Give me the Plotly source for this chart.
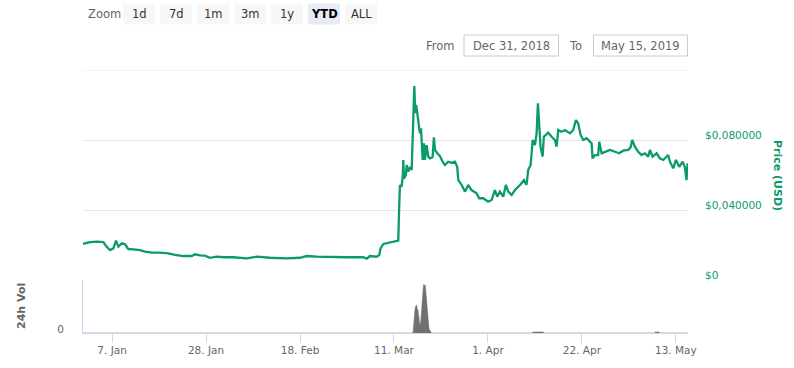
import plotly.graph_objects as go

# ---------------- data ----------------
price_time = [
    "2018-12-31 12:00", "2018-12-31 23:00", "2019-01-02 02:00", "2019-01-03 14:00", "2019-01-05 01:00",
    "2019-01-05 19:00", "2019-01-06 13:00", "2019-01-07 07:00", "2019-01-07 21:00", "2019-01-08 10:00",
    "2019-01-09 04:00", "2019-01-09 22:00", "2019-01-10 15:00", "2019-01-11 18:00", "2019-01-13 06:00",
    "2019-01-14 09:00", "2019-01-15 21:00", "2019-01-17 08:00", "2019-01-19 05:00", "2019-01-21 02:00",
    "2019-01-22 22:00", "2019-01-24 19:00", "2019-01-25 13:00", "2019-01-26 16:00", "2019-01-27 18:00",
    "2019-01-28 21:00", "2019-01-30 09:00", "2019-01-31 21:00", "2019-02-02 05:00", "2019-02-03 02:00",
    "2019-02-06 02:00", "2019-02-08 08:00", "2019-02-11 07:00", "2019-02-15 00:00", "2019-02-18 00:00",
    "2019-02-19 12:00", "2019-02-21 18:00", "2019-02-24 17:00", "2019-02-28 10:00", "2019-03-04 03:00",
    "2019-03-04 22:00", "2019-03-05 15:00", "2019-03-07 03:00", "2019-03-07 17:00", "2019-03-08 00:00",
    "2019-03-08 15:00", "2019-03-09 09:00", "2019-03-10 20:00", "2019-03-11 23:00", "2019-03-12 04:00",
    "2019-03-12 08:00", "2019-03-12 17:00", "2019-03-12 23:00", "2019-03-13 02:00", "2019-03-13 06:00",
    "2019-03-13 16:00", "2019-03-13 20:00", "2019-03-14 05:00", "2019-03-14 14:00", "2019-03-14 23:00",
    "2019-03-15 02:00", "2019-03-15 07:00", "2019-03-15 13:00", "2019-03-15 18:00", "2019-03-15 23:00",
    "2019-03-16 05:00", "2019-03-16 12:00", "2019-03-16 19:00", "2019-03-17 01:00", "2019-03-17 06:00",
    "2019-03-17 10:00", "2019-03-17 17:00", "2019-03-17 22:00", "2019-03-18 07:00", "2019-03-18 16:00",
    "2019-03-19 01:00", "2019-03-19 15:00", "2019-03-19 22:00", "2019-03-20 04:00", "2019-03-20 16:00",
    "2019-03-21 06:00", "2019-03-21 21:00", "2019-03-22 09:00", "2019-03-23 03:00", "2019-03-23 21:00",
    "2019-03-24 15:00", "2019-03-25 03:00", "2019-03-25 09:00", "2019-03-26 03:00", "2019-03-26 21:00",
    "2019-03-27 14:00", "2019-03-28 08:00", "2019-03-29 11:00", "2019-03-30 01:00", "2019-03-30 23:00",
    "2019-04-01 01:00", "2019-04-01 20:00", "2019-04-02 13:00", "2019-04-03 02:00", "2019-04-03 16:00",
    "2019-04-04 10:00", "2019-04-05 00:00", "2019-04-05 13:00", "2019-04-06 07:00", "2019-04-07 01:00",
    "2019-04-08 04:00", "2019-04-09 01:00", "2019-04-09 15:00", "2019-04-10 00:00", "2019-04-10 13:00",
    "2019-04-11 00:00", "2019-04-11 12:00", "2019-04-11 21:00", "2019-04-12 04:00", "2019-04-12 11:00",
    "2019-04-12 18:00", "2019-04-13 05:00", "2019-04-13 12:00", "2019-04-13 23:00", "2019-04-14 11:00",
    "2019-04-15 06:00", "2019-04-15 23:00", "2019-04-16 08:00", "2019-04-16 17:00", "2019-04-17 11:00",
    "2019-04-18 05:00", "2019-04-19 08:00", "2019-04-20 01:00", "2019-04-20 16:00", "2019-04-21 04:00",
    "2019-04-21 17:00", "2019-04-22 07:00", "2019-04-23 01:00", "2019-04-23 19:00", "2019-04-24 04:00",
    "2019-04-24 09:00", "2019-04-24 22:00", "2019-04-25 15:00", "2019-04-25 21:00", "2019-04-26 10:00",
    "2019-04-27 03:00", "2019-04-28 06:00", "2019-04-29 09:00", "2019-04-30 08:00", "2019-05-01 05:00",
    "2019-05-02 08:00", "2019-05-02 21:00", "2019-05-03 06:00", "2019-05-03 20:00", "2019-05-04 14:00",
    "2019-05-05 08:00", "2019-05-06 02:00", "2019-05-06 19:00", "2019-05-07 05:00", "2019-05-07 19:00",
    "2019-05-08 17:00", "2019-05-09 10:00", "2019-05-10 04:00", "2019-05-11 07:00", "2019-05-11 16:00",
    "2019-05-12 10:00", "2019-05-13 00:00", "2019-05-13 18:00", "2019-05-14 12:00", "2019-05-15 00:00",
    "2019-05-15 09:00", "2019-05-15 15:00",
]
price_usd = [
    0.0207, 0.0210, 0.0217, 0.0219, 0.0217,
    0.0190, 0.0171, 0.0181, 0.0225, 0.0190,
    0.0210, 0.0204, 0.0177, 0.0175, 0.0171,
    0.0162, 0.0156, 0.0156, 0.0153, 0.0143,
    0.0137, 0.0137, 0.0147, 0.0141, 0.0139,
    0.0127, 0.0133, 0.0130, 0.0130, 0.0130,
    0.0124, 0.0133, 0.0127, 0.0124, 0.0127,
    0.0137, 0.0133, 0.0130, 0.0130, 0.0130,
    0.0122, 0.0137, 0.0133, 0.0143, 0.0181,
    0.0206, 0.0210, 0.0217, 0.0225, 0.0419,
    0.0543, 0.0533, 0.0590, 0.0686, 0.0581,
    0.0600, 0.0657, 0.0619, 0.0647, 0.0629,
    0.0762, 0.0971, 0.1109, 0.0953, 0.1000,
    0.0953, 0.0876, 0.0838, 0.0867, 0.0771,
    0.0686, 0.0781, 0.0686, 0.0771, 0.0705,
    0.0695, 0.0701, 0.0815, 0.0743, 0.0724,
    0.0709, 0.0676, 0.0657, 0.0676, 0.0670,
    0.0676, 0.0647, 0.0571, 0.0543, 0.0505,
    0.0543, 0.0514, 0.0495, 0.0467, 0.0467,
    0.0447, 0.0457, 0.0514, 0.0476, 0.0505,
    0.0476, 0.0543, 0.0505, 0.0486, 0.0514,
    0.0543, 0.0571, 0.0543, 0.0629, 0.0657,
    0.0800, 0.0771, 0.0838, 0.1010, 0.0857,
    0.0762, 0.0705, 0.0819, 0.0829, 0.0842,
    0.0819, 0.0800, 0.0762, 0.0857, 0.0847,
    0.0857, 0.0838, 0.0857, 0.0914, 0.0895,
    0.0829, 0.0800, 0.0810, 0.0790, 0.0781,
    0.0695, 0.0714, 0.0714, 0.0790, 0.0724,
    0.0733, 0.0743, 0.0733, 0.0724, 0.0739,
    0.0743, 0.0758, 0.0800, 0.0762, 0.0733,
    0.0714, 0.0724, 0.0705, 0.0743, 0.0705,
    0.0724, 0.0695, 0.0686, 0.0714, 0.0676,
    0.0638, 0.0686, 0.0647, 0.0676, 0.0647,
    0.0571, 0.0667,
]

vol_time = [
    "2018-12-31 12:00", "2019-03-15 05:00", "2019-03-15 07:00", "2019-03-15 12:00", "2019-03-15 16:00",
    "2019-03-15 21:00", "2019-03-16 01:00", "2019-03-16 05:00", "2019-03-16 09:00", "2019-03-16 14:00",
    "2019-03-16 19:00", "2019-03-16 23:00", "2019-03-17 04:00", "2019-03-17 10:00", "2019-03-17 14:00",
    "2019-03-17 17:00", "2019-03-17 21:00", "2019-03-18 00:00", "2019-03-18 04:00", "2019-03-18 07:00",
    "2019-03-18 12:00", "2019-03-18 16:00", "2019-03-18 20:00", "2019-03-19 01:00", "2019-03-19 06:00",
    "2019-03-19 09:00", "2019-04-11 00:00", "2019-04-11 01:00", "2019-04-13 09:00", "2019-04-13 10:00",
    "2019-05-08 08:00", "2019-05-08 09:00", "2019-05-09 05:00", "2019-05-09 06:00", "2019-05-15 15:00",
]
vol_usd = [
    0, 0, 38000, 285000, 431000,
    512000, 526000, 455000, 431000, 285000,
    146000, 190000, 463000, 843000, 901000,
    918000, 873000, 905000, 721000, 526000,
    285000, 146000, 76000, 51000, 28000,
    0, 0, 19000, 19000, 0,
    0, 19000, 19000, 0, 0,
]

x_tick_dates = ["2019-01-07", "2019-01-28", "2019-02-18", "2019-03-11", "2019-04-01", "2019-04-22", "2019-05-13"]
x_tick_labels = ["7. Jan", "28. Jan", "18. Feb", "11. Mar", "1. Apr", "22. Apr", "13. May"]
price_tick_vals = [0, 0.04, 0.08, 0.12]
price_tick_labels = ["$0", "$0,040000", "$0,080000", ""]
zoom_buttons = ["1d", "7d", "1m", "3m", "1y", "YTD", "ALL"]
from_date_text = "Dec 31, 2018"
to_date_text = "May 15, 2019"

# ---------------- styling / layout ----------------
GREEN = "#0a9b6b"
GRAY = "#666666"
FONT = "DejaVu Sans"
W, H = 794, 368
L, R, T, B = 83, 688, 70, 333
VOL_TOP = 280


def px(xp):
    return (xp - L) / (R - L)


def py(yp):
    return (B - yp) / (B - T)


vol_frac = (B - VOL_TOP) / (B - T)

fig = go.Figure()
fig.add_trace(go.Scatter(
    x=price_time, y=price_usd, mode="lines",
    line=dict(color=GREEN, width=2.3), xaxis="x", yaxis="y",
    hoverinfo="skip", showlegend=False,
))
fig.add_trace(go.Scatter(
    x=vol_time, y=vol_usd, mode="lines", fill="tozeroy",
    line=dict(color="#707070", width=0.5), fillcolor="#707070",
    xaxis="x2", yaxis="y2", hoverinfo="skip", showlegend=False,
))

x_range = ["2018-12-31 12:00", "2019-05-15 17:00"]

fig.update_layout(
    width=W, height=H,
    margin=dict(l=L, r=W - R, t=T, b=H - B, pad=0),
    paper_bgcolor="white", plot_bgcolor="white",
    font=dict(family=FONT, size=11, color=GRAY),
    xaxis=dict(domain=[0, 1], range=x_range, type="date", anchor="y",
               showticklabels=False, showgrid=False, zeroline=False, showline=False,
               matches="x2"),
    yaxis=dict(domain=[vol_frac, 1], range=[0, 0.12], side="right", anchor="x",
               tickvals=price_tick_vals, ticktext=price_tick_labels,
               tickfont=dict(color=GREEN, size=10.5, family=FONT),
               gridcolor="#e6e6e6", gridwidth=1, zeroline=False, showline=False,
               ticks="", ticklabelstandoff=16, ticklabelshift=-5),
    xaxis2=dict(domain=[0, 1], range=x_range, type="date", anchor="y2",
                tickvals=x_tick_dates, ticktext=x_tick_labels,
                tickfont=dict(color=GRAY, size=10.5, family=FONT),
                showgrid=False, zeroline=False, showline=True, linecolor="#ccd6eb",
                linewidth=1, ticks="outside", ticklen=9, tickcolor="#ccd6eb", tickwidth=1,
                ticklabelstandoff=-2),
    yaxis2=dict(domain=[0, vol_frac], range=[0, 1.0e6], side="left", anchor="x2",
                tickvals=[0], ticktext=["0"],
                tickfont=dict(color=GRAY, size=10.5, family=FONT),
                showgrid=False, zeroline=False, showline=True, linecolor="#ccd6eb",
                linewidth=1, ticks="", ticklabelstandoff=16, ticklabelshift=-4),
)

shapes = []
annotations = []

# top gridline of the price panel (at the top of its range)
shapes.append(dict(type="line", xref="paper", yref="y", x0=0, x1=1,
                   y0=price_tick_vals[-1], y1=price_tick_vals[-1],
                   line=dict(color="#e6e6e6", width=1), layer="below"))

# Zoom label and range buttons
annotations.append(dict(text="Zoom", x=px(86), y=py(14), xref="paper", yref="paper",
                        xanchor="left", yanchor="middle", showarrow=False,
                        font=dict(family=FONT, size=11.5, color=GRAY)))
btn_left = [123, 160, 197, 234, 271, 308, 345]
for lbl, bx in zip(zoom_buttons, btn_left):
    active = lbl == "YTD"
    shapes.append(dict(type="rect", xref="paper", yref="paper",
                       x0=px(bx), x1=px(bx + 32), y0=py(24.5), y1=py(3.5),
                       fillcolor="#e6ebf5" if active else "#f7f7f7", line=dict(width=0),
                       layer="below"))
    annotations.append(dict(text=f"<b>{lbl}</b>" if active else lbl,
                            x=px(bx + 16), y=py(14), xref="paper", yref="paper",
                            xanchor="center", yanchor="middle", showarrow=False,
                            font=dict(family=FONT, size=11.5, color="#000000" if active else "#333333")))

# From / To inputs
annotations.append(dict(text="From", x=px(457), y=py(45.5), xref="paper", yref="paper",
                        xanchor="right", yanchor="middle", showarrow=False,
                        font=dict(family=FONT, size=11.5, color=GRAY)))
annotations.append(dict(text="To", x=px(584), y=py(45.5), xref="paper", yref="paper",
                        xanchor="right", yanchor="middle", showarrow=False,
                        font=dict(family=FONT, size=11.5, color=GRAY)))
for (x0, x1, txt) in [(464, 558.5, from_date_text), (593.5, 687.5, to_date_text)]:
    shapes.append(dict(type="rect", xref="paper", yref="paper",
                       x0=px(x0), x1=px(x1), y0=py(56), y1=py(35),
                       fillcolor="white", line=dict(color="#cccccc", width=1)))
    annotations.append(dict(text=txt, x=px((x0 + x1) / 2), y=py(45.5), xref="paper", yref="paper",
                            xanchor="center", yanchor="middle", showarrow=False,
                            font=dict(family=FONT, size=11.5, color=GRAY)))

# Axis titles
annotations.append(dict(text="<b>Price (USD)</b>", x=px(778), y=py(175), xref="paper", yref="paper",
                        xanchor="center", yanchor="middle", showarrow=False, textangle=90,
                        font=dict(family=FONT, size=11, color=GREEN)))
annotations.append(dict(text="<b>24h Vol</b>", x=px(21), y=py(306), xref="paper", yref="paper",
                        xanchor="center", yanchor="middle", showarrow=False, textangle=-90,
                        font=dict(family=FONT, size=11, color=GRAY)))

fig.update_layout(shapes=shapes, annotations=annotations)

fig.write_html("out.html", config={"displayModeBar": False, "staticPlot": True},
               post_script="document.body.style.margin='0px';")
